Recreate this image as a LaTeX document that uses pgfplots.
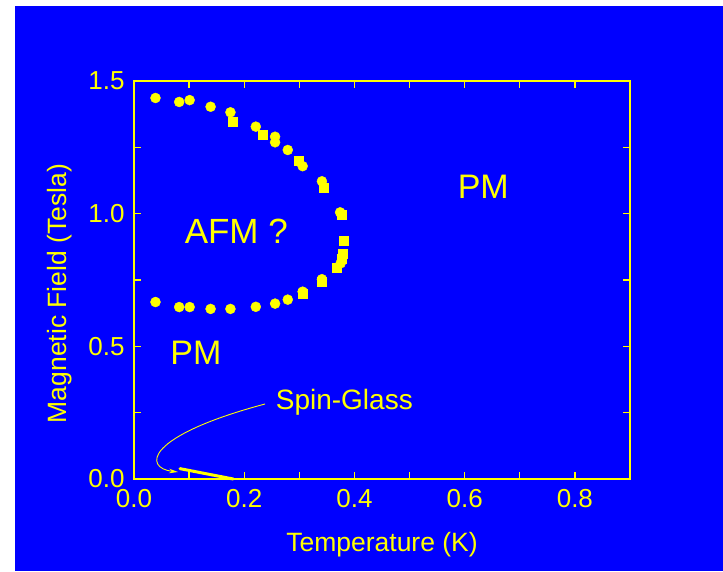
\documentclass[border=0pt]{standalone}
\usepackage{fontspec}
\setmainfont{Liberation Sans}
\usepackage{pgfplots}
\pgfplotsset{compat=1.18}
\usetikzlibrary{arrows.meta}
\definecolor{bgblue}{RGB}{0,0,255}
\definecolor{yel}{RGB}{255,255,0}
\begin{document}
\begin{tikzpicture}
\useasboundingbox (0pt,0pt) rectangle (723pt,571pt);
\fill[white] (0pt,0pt) rectangle (723pt,571pt);
\fill[bgblue] (15pt,0pt) rectangle (723pt,565pt);
\begin{axis}[
  at={(134pt,92pt)}, anchor=south west,
  scale only axis, width=496pt, height=398pt,
  xmin=0, xmax=0.9, ymin=0, ymax=1.5,
  xtick={0,0.2,0.4,0.6,0.8}, ytick={0,0.5,1,1.5},
  minor x tick num=1, minor y tick num=1,
  tick align=inside,
  major tick length=7pt, minor tick length=7pt,
  axis line style={yel, line width=1.8pt},
  every tick/.style={yel, line width=1.4pt},
  tick label style={text=yel, font=\fontsize{26}{26}\selectfont},
  /pgf/number format/assume math mode=true,
  /pgf/number format/.cd, fixed, fixed zerofill, precision=1, /pgfplots/.cd,
  xlabel={Temperature (K)}, ylabel={Magnetic Field (Tesla)},
  label style={text=yel, font=\fontsize{26.5}{26.5}\selectfont},
  x label style={at={(axis description cs:0.5,-0.166)}, anchor=center},
  y label style={at={(axis description cs:-0.149,0.466)}, anchor=center, rotate=0},
  xticklabel style={yshift=-7pt},
  yticklabel style={xshift=-6pt},
  clip=false,
]
\addplot[only marks, mark=square*, mark size=4.5pt, color=yel] coordinates {
(0.180,1.346) (0.233,1.297) (0.298,1.198) (0.345,1.098) (0.376,0.996)
(0.381,0.897) (0.379,0.848) (0.376,0.830) (0.368,0.797) (0.341,0.745) (0.307,0.697)
};
\addplot[only marks, mark=*, mark size=5pt, color=yel] coordinates {
(0.039,1.436) (0.082,1.421) (0.101,1.428) (0.139,1.403) (0.175,1.382)
(0.221,1.328) (0.256,1.290) (0.256,1.269) (0.279,1.240) (0.306,1.179)
(0.341,1.122) (0.374,1.005) (0.375,0.813) (0.341,0.753) (0.306,0.706)
(0.279,0.676) (0.256,0.661) (0.221,0.649) (0.175,0.641) (0.139,0.641)
(0.101,0.648) (0.082,0.648) (0.039,0.667)
};
\addplot[yel, line width=3pt, line cap=round] coordinates {(0.0835,0.039) (0.18,0.0)};
\end{axis}
\draw[yel, line width=0.9pt, -{Stealth[length=9pt,width=4.5pt]}] (265pt,167pt) .. controls (145pt,135pt) and (143pt,103pt) .. (178pt,99pt);
\node[text=yel, anchor=base, font=\fontsize{28}{28}\selectfont] at (344.3pt,161.7pt) {Spin-Glass};
\node[text=yel, anchor=base, font=\fontsize{35}{35}\selectfont] at (236.3pt,327.7pt) {AFM ?};
\node[text=yel, anchor=base, font=\fontsize{34}{34}\selectfont] at (483.3pt,372.3pt) {PM};
\node[text=yel, anchor=base, font=\fontsize{34}{34}\selectfont] at (195.9pt,206.7pt) {PM};
\end{tikzpicture}
\end{document}
